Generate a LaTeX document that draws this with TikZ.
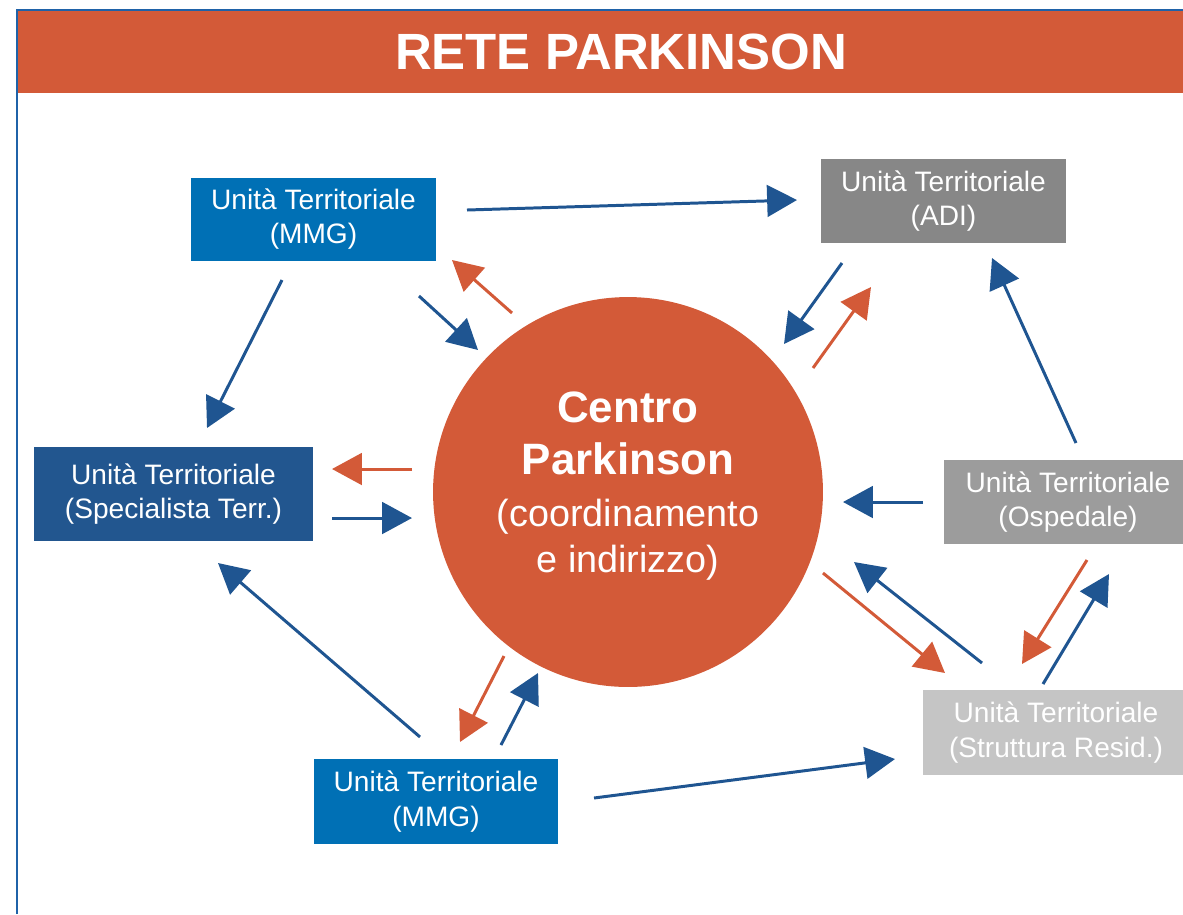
\documentclass[tikz,border=0pt]{standalone}
\usepackage{fontspec}
\setmainfont{Liberation Sans}
\usepackage{tikz}
\usetikzlibrary{arrows.meta}
\definecolor{arancio}{HTML}{D35A38}
\definecolor{blu}{HTML}{1F5591}
\definecolor{bluchiaro}{HTML}{0070B5}
\definecolor{bluscuro}{HTML}{22568F}
\definecolor{grigio}{HTML}{878787}
\definecolor{grigiomedio}{HTML}{9C9C9C}
\definecolor{grigiochiaro}{HTML}{C5C5C5}
\definecolor{bordo}{HTML}{1F62A8}
\tikzset{
    unita/.style={minimum width=4.9cm, minimum height=1.66cm, inner sep=0pt,
        align=center, text=white, font=\fontsize{16}{19.5}\selectfont},
    fblu/.style={-{Triangle[length=17pt,width=18pt]}, line width=1.7pt, blu},
    farancio/.style={fblu, arancio}
}

\begin{document}
\begin{tikzpicture}[x=0.02cm, y=-0.02cm]
        \useasboundingbox (0,0) rectangle (1183,914);
        % Cornice e titolo
        \fill[arancio] (18,11) rectangle (1183,93);
        \draw[bordo, line width=1.2pt] (17,914) -- (17,10) -- (1183,10);
        \node[text=white, font=\fontsize{29}{34}\selectfont\bfseries] (titolo) at (621,52) {RETE PARKINSON};
        % Centro
        \node[circle, fill=arancio, minimum size=7.8cm, inner sep=0pt, align=center, text depth=0.4cm,
            text=white, font=\fontsize{25}{29.5}\selectfont] (centro) at (628,492)
            {{\bfseries Centro}\\{\bfseries Parkinson}\\
             {\fontsize{21.5}{26}\selectfont (coordinamento}\\[-3.5pt]
             {\fontsize{21.5}{26}\selectfont e indirizzo)}};
        % Unita territoriali
        \node[unita, fill=bluchiaro] (mmgsu) at (313.5,219) {Unità Territoriale\\(MMG)};
        \node[unita, fill=grigio, minimum height=1.68cm] (adi) at (943.5,201) {Unità Territoriale\\(ADI)};
        \node[unita, fill=bluscuro, minimum width=5.58cm, minimum height=1.88cm] (spec) at (173.5,494)
            {Unità Territoriale\\(Specialista Terr.)};
        \node[unita, fill=grigiomedio, minimum width=4.96cm, minimum height=1.68cm] (osp) at (1068,502)
            {Unità Territoriale\\(Ospedale)};
        \node[unita, fill=grigiochiaro, minimum width=5.32cm, minimum height=1.7cm] (rsa) at (1056,732.5)
            {Unità Territoriale\\(Struttura Resid.)};
        \node[unita, fill=bluchiaro, minimum height=1.7cm] (mmggiu) at (436,801.5) {Unità Territoriale\\(MMG)};
        % Estremi delle frecce
        \coordinate (p1) at (467,210);   \coordinate (q1) at (797,200);
        \coordinate (p2) at (282,280);   \coordinate (q2) at (207,428);
        \coordinate (p3) at (419,296);   \coordinate (q3) at (478,350);
        \coordinate (p4) at (512,313);   \coordinate (q4) at (452,260);
        \coordinate (p5) at (842,263);   \coordinate (q5) at (784,344);
        \coordinate (p6) at (813,368);   \coordinate (q6) at (871,287);
        \coordinate (p7) at (412,469);   \coordinate (q7) at (332,469);
        \coordinate (p8) at (332,518);   \coordinate (q8) at (412,518);
        \coordinate (p9) at (923,502);   \coordinate (q9) at (843,502);
        \coordinate (p10) at (1076,443); \coordinate (q10) at (992,258);
        \coordinate (p11) at (823,573);  \coordinate (q11) at (945,673);
        \coordinate (p12) at (982,663);  \coordinate (q12) at (854,562);
        \coordinate (p13) at (1087,560); \coordinate (q13) at (1022,664);
        \coordinate (p14) at (1043,684); \coordinate (q14) at (1109,574);
        \coordinate (p15) at (420,737);  \coordinate (q15) at (218,563);
        \coordinate (p16) at (504,656);  \coordinate (q16) at (460,742);
        \coordinate (p17) at (501,745);  \coordinate (q17) at (538,673);
        \coordinate (p18) at (594,798);  \coordinate (q18) at (895,759);
        % Frecce
        \foreach \i in {1,2,3,5,8,9,10,12,14,15,17,18}
            \draw[fblu] (p\i) -- (q\i);
        \foreach \i in {4,6,7,11,13,16}
            \draw[farancio] (p\i) -- (q\i);
    \end{tikzpicture}
\end{document}
